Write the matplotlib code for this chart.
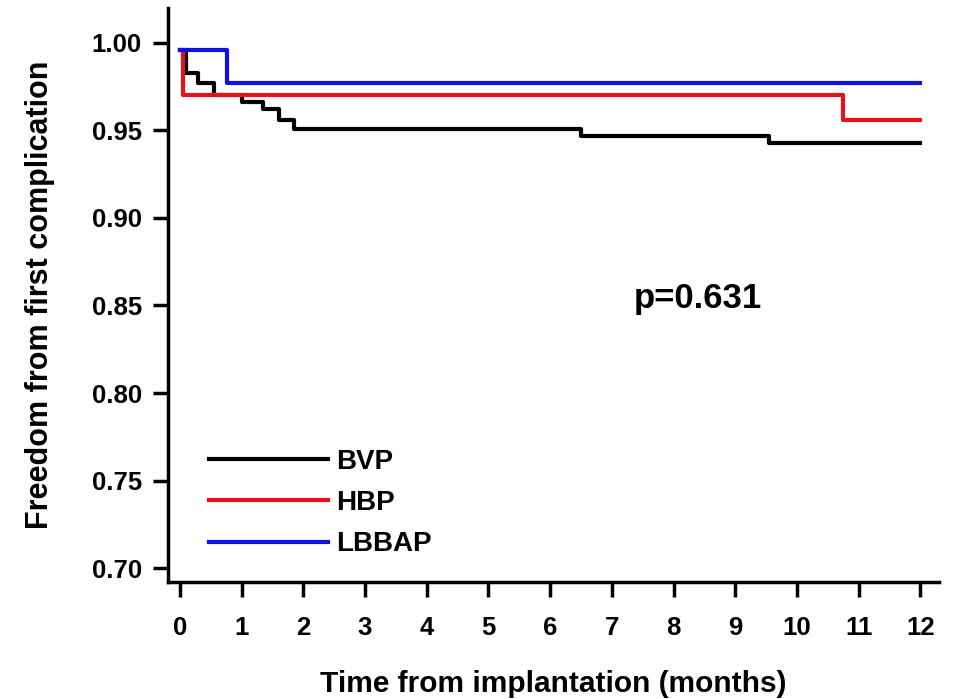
import matplotlib
matplotlib.use("Agg")
import matplotlib.pyplot as plt

plt.rcParams['font.family'] = ['Liberation Sans', 'DejaVu Sans']
plt.rcParams['font.weight'] = 'bold'

# Kaplan-Meier step data
bvp_t = [0, 0.1, 0.3, 0.55, 1.0, 1.35, 1.6, 1.85, 6.5, 9.55, 12]
bvp_s = [0.996, 0.983, 0.977, 0.970, 0.966, 0.962, 0.956, 0.951, 0.947, 0.943, 0.943]

hbp_t = [0, 0.05, 10.75, 12]
hbp_s = [0.996, 0.970, 0.956, 0.956]

lbbap_t = [0, 0.77, 12]
lbbap_s = [0.996, 0.977, 0.977]

x_ticks = list(range(0, 13))
y_ticks = [0.70, 0.75, 0.80, 0.85, 0.90, 0.95, 1.00]

fig = plt.figure(figsize=(9.72, 6.99), dpi=100)
ax = fig.add_axes([0.173, 0.167, 0.793, 0.822])

ax.plot(bvp_t, bvp_s, drawstyle='steps-post', color='black', lw=3, label='BVP')
ax.plot(hbp_t, hbp_s, drawstyle='steps-post', color='#e8101a', lw=3, label='HBP')
ax.plot(lbbap_t, lbbap_s, drawstyle='steps-post', color='#1010e0', lw=3, label='LBBAP')

ax.set_xlim(-0.19, 12.3)
ax.set_ylim(0.692, 1.02)
ax.set_xticks(x_ticks)
ax.set_yticks(y_ticks)
ax.set_yticklabels([f'{v:.2f}' for v in y_ticks])

for s in ['top', 'right']:
    ax.spines[s].set_visible(False)
for s in ['left', 'bottom']:
    ax.spines[s].set_linewidth(2.5)
ax.tick_params(axis='both', direction='out', length=11, width=2.5, labelsize=18.5)
ax.tick_params(axis='x', pad=13)
ax.tick_params(axis='y', pad=8)

ax.set_xlabel('Time from implantation (months)', fontsize=21.5, fontweight='bold', labelpad=22)
ax.set_ylabel('Freedom from first complication', fontsize=22, fontweight='bold', labelpad=26)

ax.text(8.4, 0.854, 'p=0.631', fontsize=25, fontweight='bold', ha='center', va='center')

ax.legend(loc='lower left', bbox_to_anchor=(0.02, 0.0), frameon=False, fontsize=20,
          handlelength=4.3, labelspacing=0.55, handletextpad=0.3)

fig.savefig('out.png', dpi=100)
